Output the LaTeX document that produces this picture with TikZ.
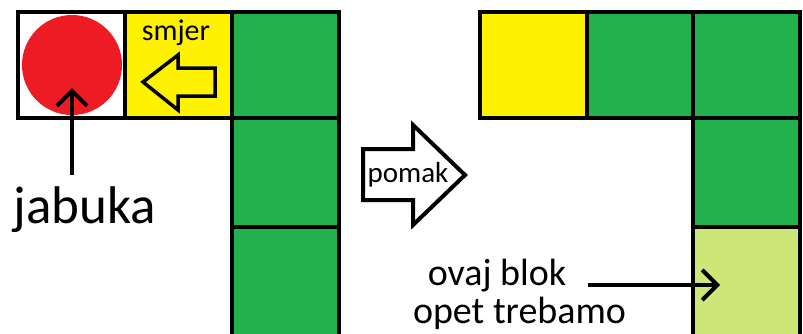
\documentclass[tikz,border=0pt]{standalone}
\usepackage{fontspec}
\setmainfont{Carlito}
\usetikzlibrary{arrows.meta}
\definecolor{zuta}{RGB}{255,242,0}
\definecolor{zelena}{RGB}{34,177,76}
\definecolor{crvena}{RGB}{237,28,36}
\definecolor{svijetla}{RGB}{204,230,120}

\begin{document}
\begin{tikzpicture}[x=1pt,y=-1pt,
  cell/.style={draw=black,line width=4pt},
  pokazivac/.style={line width=4pt,-{Straight Barb[length=15pt,width=30pt]}}]
\useasboundingbox (0,0) rectangle (803,333);
\draw[cell,fill=white] (18,12) rectangle (125,118);
\fill[crvena] (72,65) circle (50);
\draw[cell] (18,12) rectangle (125,118);
\draw[cell,fill=zuta] (125,12) rectangle (232,118);
\draw[cell,fill=zelena] (232,12) rectangle (339,118);
\draw[cell,fill=zelena] (232,118) rectangle (339,227);
\draw[cell,fill=zelena] (232,227) rectangle (339,336);
\draw[line width=3.5pt,fill=zuta] (143,82) -- (178,55) -- (178,68) -- (215,68) -- (215,96) -- (178,96) -- (178,110) -- cycle;
\node[anchor=base,font=\fontsize{30}{36}\selectfont] (smjer) at (176,40) {smjer};
\node[anchor=base,font=\fontsize{53}{64}\selectfont] (jabuka) at (85,223) {jabuka};
\coordinate (jabukaVrh) at (72,88);
\draw[pokazivac,shorten <=8pt] (jabuka.north -| jabukaVrh) -- (jabukaVrh);
\draw[line width=4pt,fill=white] (363,149) -- (413,149) -- (413,125) -- (465,175) -- (413,225) -- (413,200) -- (363,200) -- cycle;
\node[anchor=base,font=\fontsize{29}{35}\selectfont] (pomak) at (408,182) {pomak};
\draw[cell,fill=zuta] (480,12) rectangle (587,118);
\draw[cell,fill=zelena] (587,12) rectangle (693,118);
\draw[cell,fill=zelena] (693,12) rectangle (800,118);
\draw[cell,fill=zelena] (693,118) rectangle (800,227);
\draw[cell,fill=svijetla] (693,227) rectangle (800,336);
\node[anchor=base,font=\fontsize{38}{46}\selectfont] (ovaj) at (497,285) {ovaj blok};
\node[anchor=base,font=\fontsize{38}{46}\selectfont] (opet) at (519.5,323) {opet trebamo};
\coordinate (blokCilj) at (720,285);
\draw[pokazivac,shorten <=18pt] (ovaj.base east) -- (blokCilj);
\end{tikzpicture}
\end{document}
